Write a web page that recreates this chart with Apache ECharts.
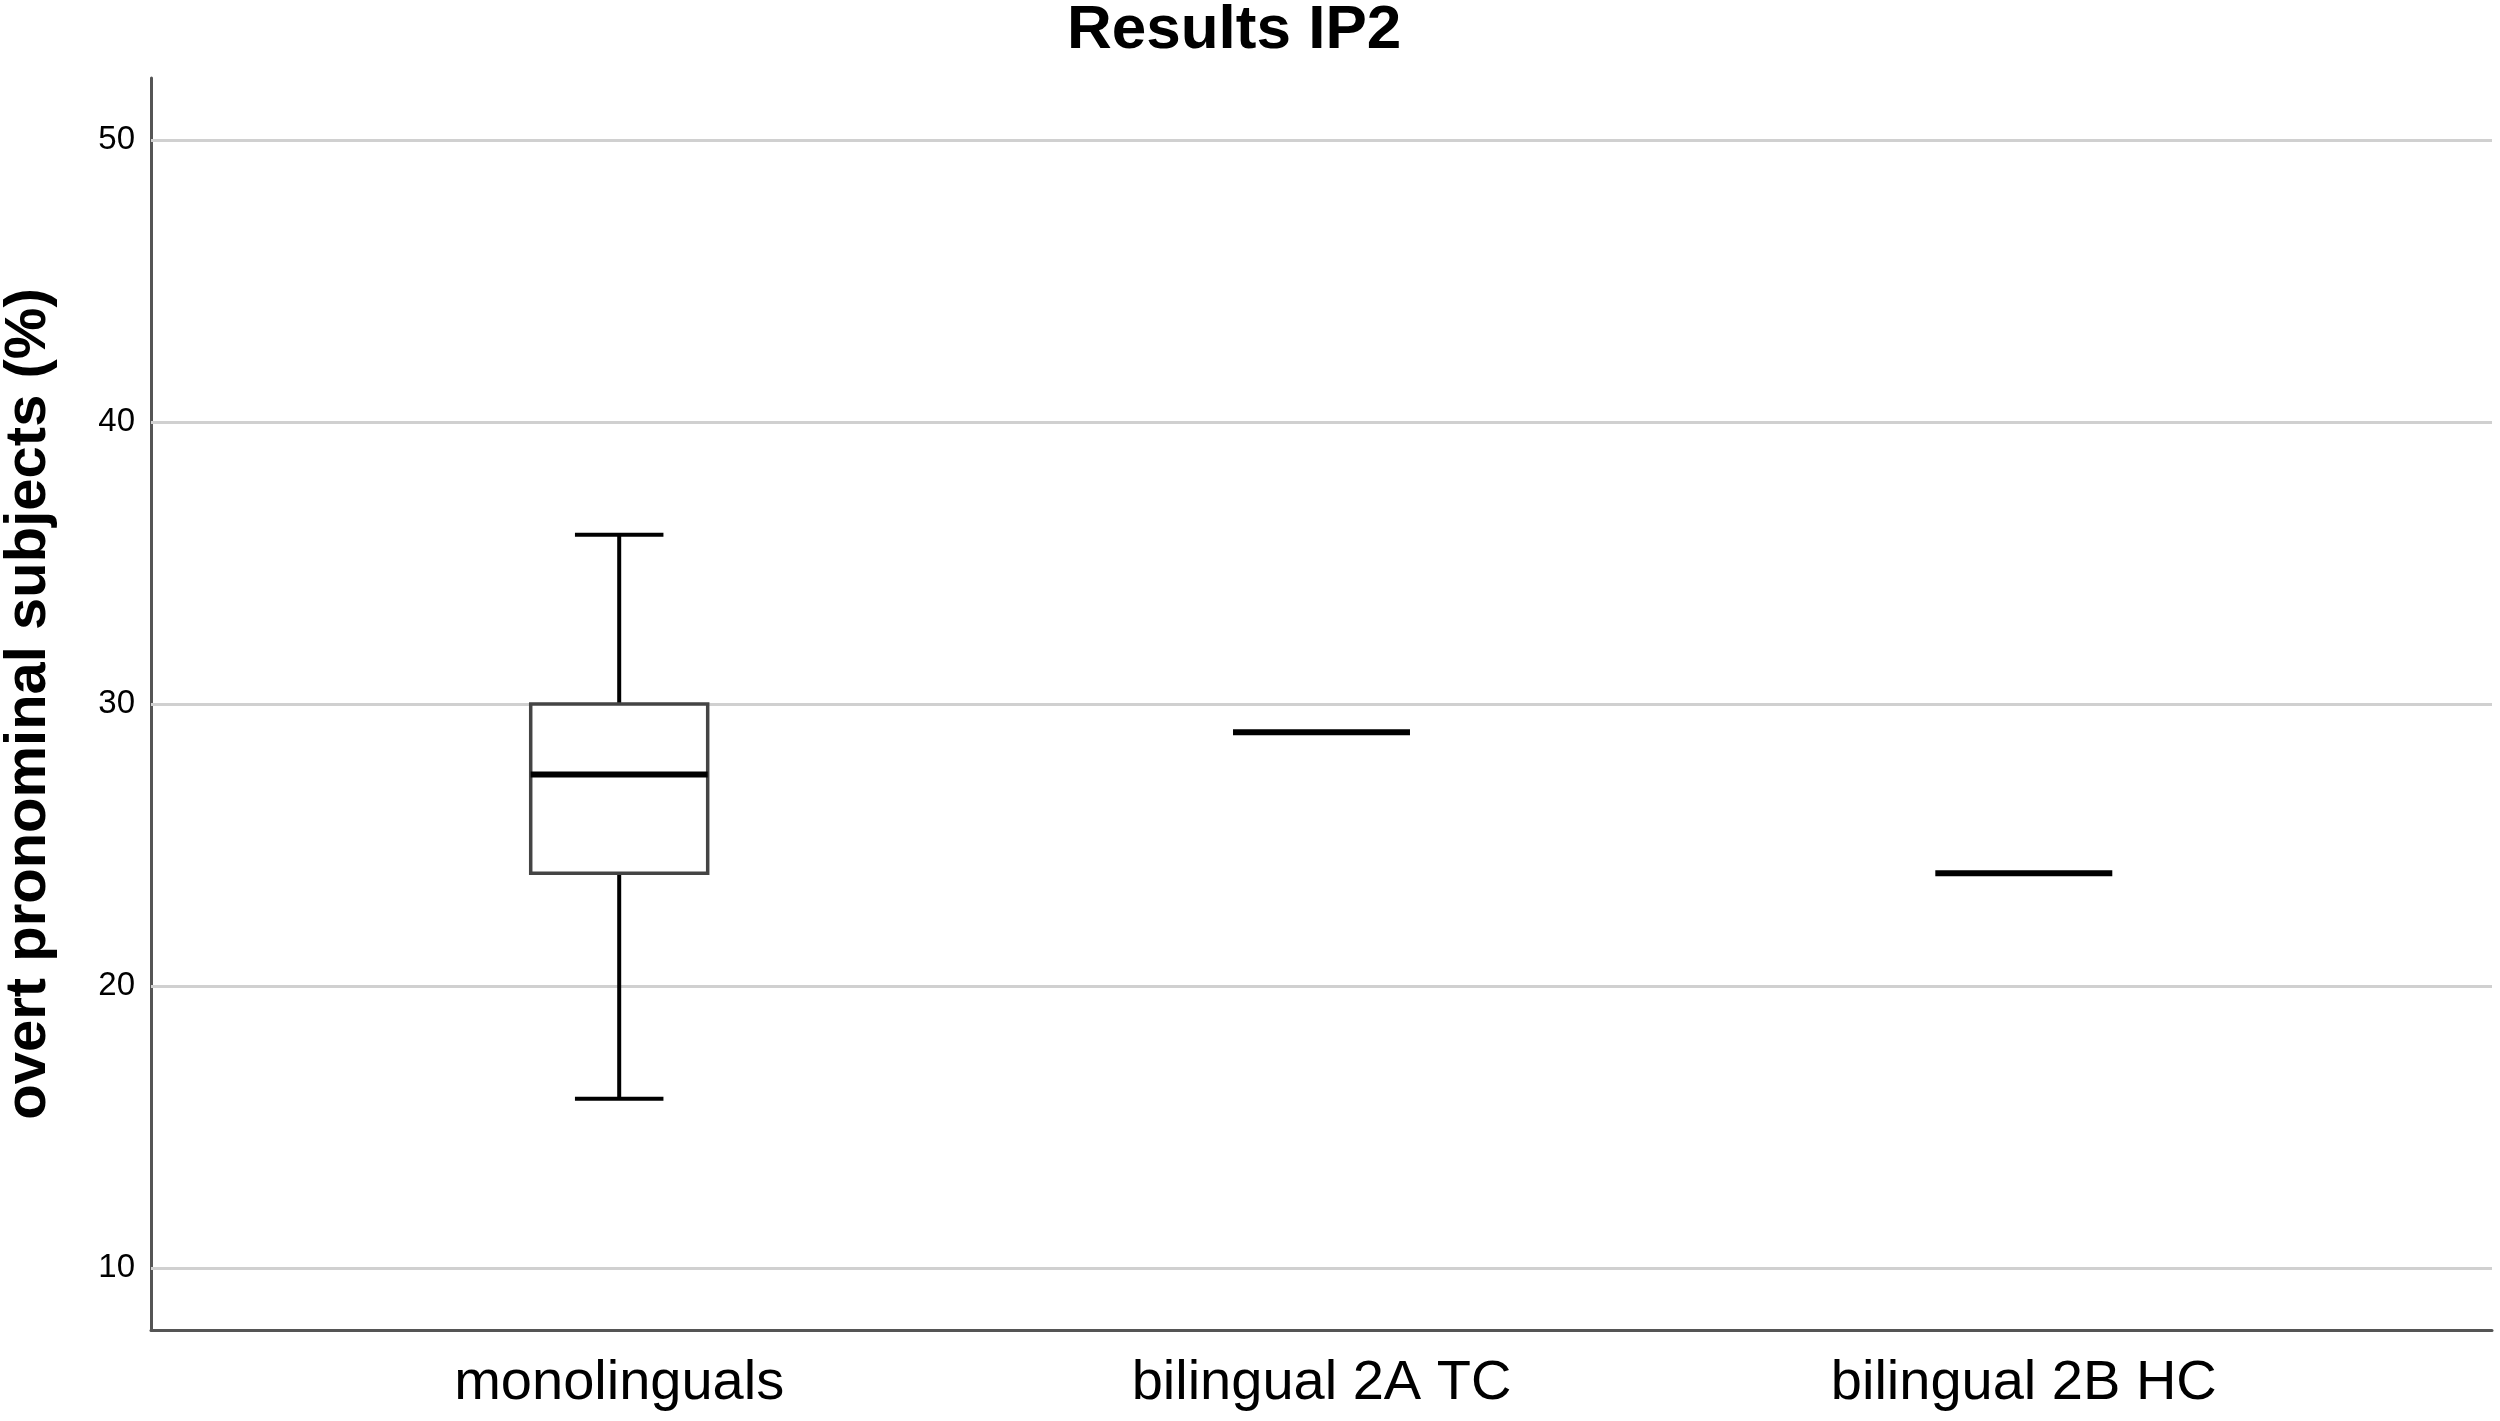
<!DOCTYPE html>
<html>
<head>
<meta charset="utf-8">
<script src="https://cdn.jsdelivr.net/npm/echarts@6/dist/echarts.min.js"></script>
<style>
html,body{margin:0;padding:0;background:#fff;}
#chart{width:2500px;height:1421px;}
</style>
</head>
<body>
<div id="chart"></div>
<script>
const categories = ['monolinguals', 'bilingual 2A TC', 'bilingual 2B HC'];
const minValues = [16, 29, 24];
const q1Values = [24, 29, 24];
const medianValues = [27.5, 29, 24];
const q3Values = [30, 29, 24];
const maxValues = [36, 29, 24];
const yTicks = [10, 20, 30, 40, 50];

const boxData = categories.map((c, i) => [i, minValues[i], q1Values[i], medianValues[i], q3Values[i], maxValues[i]]);

const BOX_W = 0.252;
const FONT = '"Liberation Sans", Arial, sans-serif';

const chart = echarts.init(document.getElementById('chart'));
chart.setOption({
  backgroundColor: '#ffffff',
  animation: false,
  title: {
    text: 'Results IP2',
    left: 1067,
    top: 0,
    padding: 0,
    textStyle: { fontFamily: FONT, fontWeight: 'bold', fontSize: 62, color: '#000' }
  },
  grid: { left: 151, right: 8, top: 78, bottom: 91, containLabel: false, outerBoundsMode: 'none' },
  xAxis: {
    type: 'value',
    min: -2 / 3,
    max: 8 / 3,
    axisLine: { show: true, onZero: false, lineStyle: { color: '#555', width: 3 } },
    axisTick: { show: false, customValues: [0, 1, 2] },
    splitLine: { show: false },
    axisLabel: {
      customValues: [0, 1, 2],
      formatter: v => categories[Math.round(v)],
      fontFamily: FONT, fontSize: 56, color: '#000', margin: 26
    }
  },
  yAxis: {
    type: 'value',
    min: 7.8,
    max: 52.2,
    name: 'overt pronominal subjects (%)',
    nameLocation: 'middle',
    nameGap: 93,
    nameTextStyle: { fontFamily: FONT, fontWeight: 'bold', fontSize: 58, color: '#000' },
    axisLine: { show: true, onZero: false, lineStyle: { color: '#555', width: 3 } },
    axisTick: { show: false, customValues: yTicks },
    splitLine: { show: false },
    axisLabel: {
      customValues: yTicks,
      fontFamily: FONT, fontSize: 33, color: '#000', margin: 16,
      padding: [14, 0, 0, 0]
    }
  },
  series: [
    {
      type: 'line',
      data: [],
      z: 1,
      silent: true,
      markLine: {
        silent: true,
        symbol: 'none',
        label: { show: false },
        lineStyle: { color: '#d0d0d0', width: 3, type: 'solid' },
        data: yTicks.map(v => ({ yAxis: v }))
      }
    },
    {
      type: 'custom',
      z: 5,
      data: boxData,
      encode: { x: 0, y: [1, 2, 3, 4, 5] },
      renderItem: function (params, api) {
        const x = api.value(0);
        const vmin = api.value(1), q1 = api.value(2), med = api.value(3), q3 = api.value(4), vmax = api.value(5);
        const halfW = api.size([BOX_W, 0])[0] / 2;
        const capHalf = halfW / 2;
        const pMin = api.coord([x, vmin]);
        const pQ1 = api.coord([x, q1]);
        const pMed = api.coord([x, med]);
        const pQ3 = api.coord([x, q3]);
        const pMax = api.coord([x, vmax]);
        const cx = pMed[0];
        const children = [];
        const whisk = { stroke: '#000', lineWidth: 4 };
        if (vmax !== q3) {
          children.push({ type: 'line', shape: { x1: cx, y1: pQ3[1], x2: cx, y2: pMax[1] }, style: whisk });
          children.push({ type: 'line', shape: { x1: cx - capHalf, y1: pMax[1], x2: cx + capHalf, y2: pMax[1] }, style: whisk });
        }
        if (vmin !== q1) {
          children.push({ type: 'line', shape: { x1: cx, y1: pQ1[1], x2: cx, y2: pMin[1] }, style: whisk });
          children.push({ type: 'line', shape: { x1: cx - capHalf, y1: pMin[1], x2: cx + capHalf, y2: pMin[1] }, style: whisk });
        }
        if (q3 !== q1) {
          children.push({
            type: 'rect',
            shape: { x: cx - halfW, y: pQ3[1], width: halfW * 2, height: pQ1[1] - pQ3[1] },
            style: { fill: '#fff', stroke: '#444', lineWidth: 3.5 }
          });
        }
        children.push({
          type: 'line',
          shape: { x1: cx - halfW, y1: pMed[1], x2: cx + halfW, y2: pMed[1] },
          style: { stroke: '#000', lineWidth: 6 }
        });
        return { type: 'group', children: children };
      }
    }
  ]
});
</script>
</body>
</html>
